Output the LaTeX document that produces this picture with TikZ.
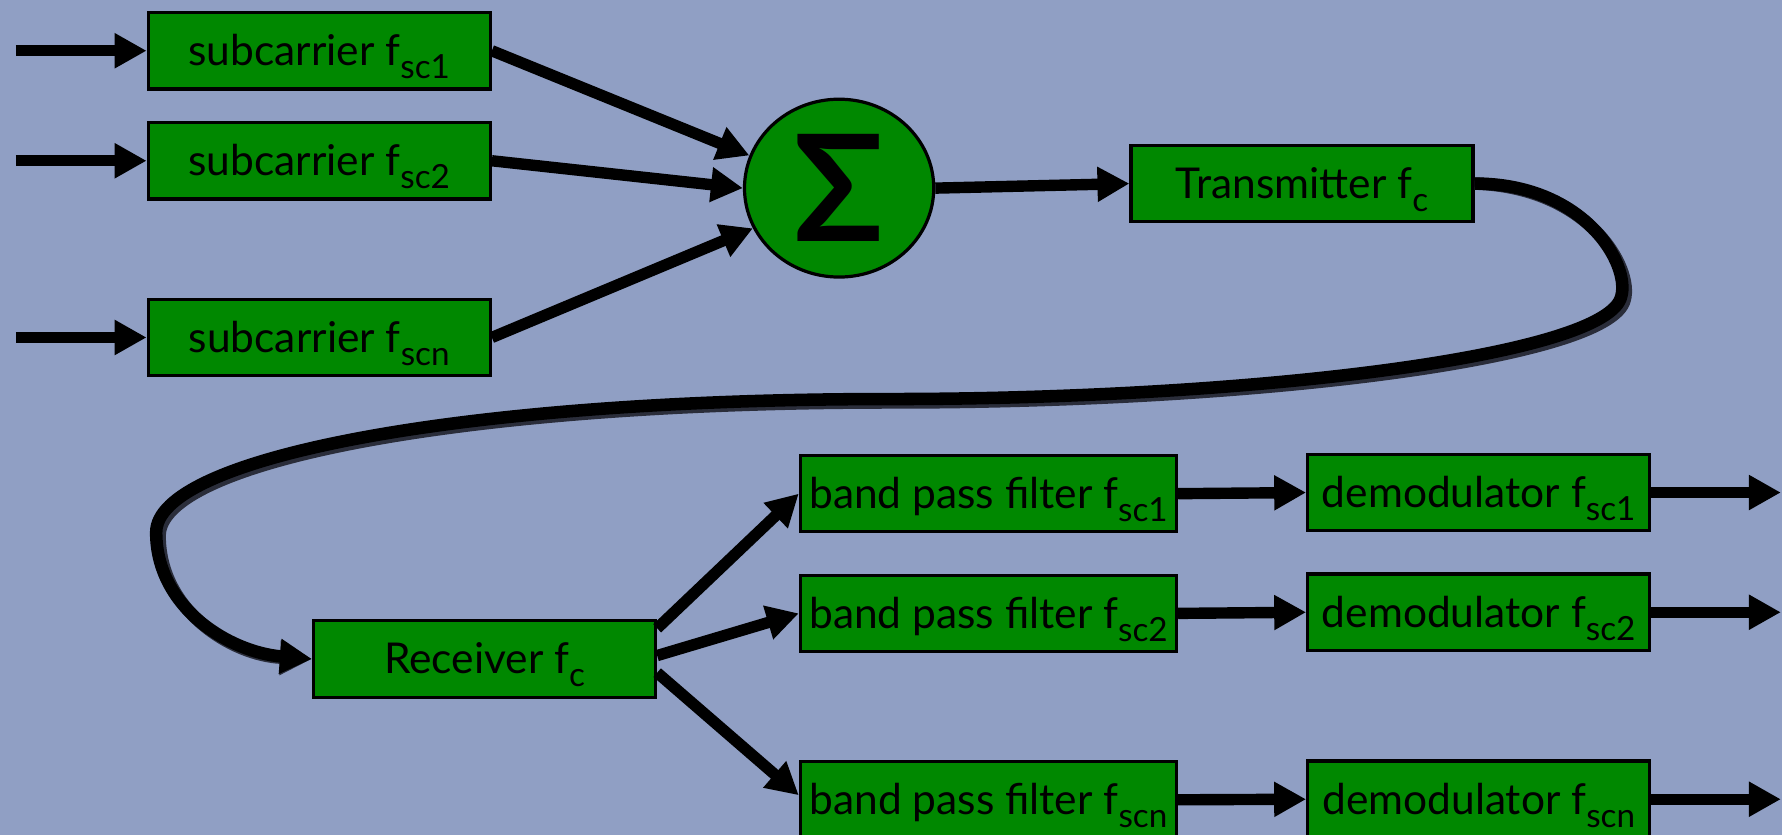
\documentclass[tikz,border=0pt]{standalone}
\usepackage{fontspec}
\setmainfont{Lato}
\usepackage{tikz}
\usetikzlibrary{arrows.meta,shapes.geometric}

\definecolor{bgblue}{HTML}{909FC4}
\definecolor{boxgreen}{HTML}{008800}
\definecolor{shadowgray}{HTML}{2A2D3A}

\newcommand\scsub[1]{\raisebox{-1.15mm}{\fontsize{8.3}{9}\selectfont#1}}

\tikzset{
	block/.style={draw, fill=boxgreen, line width=0.8pt, minimum width=3cm, minimum height=0.67cm, inner sep=0pt, text height=2.6mm, text depth=0pt, font=\fontsize{10.6}{12}\selectfont},
	bpf/.style={block, minimum width=3.3cm},
	sumnode/.style={ellipse, draw, fill=boxgreen, line width=0.8pt, minimum width=1.66cm, minimum height=1.56cm, inner sep=0pt, font=\bfseries\fontsize{37}{37}\selectfont},
	flow/.style={line width=1mm, -{Triangle[length=2.8mm,width=2.9mm]}},
	link/.style={line width=1.1mm, -{Triangle[length=2.8mm,width=2.9mm]}},
}

\begin{document}
\begin{tikzpicture}
\fill[bgblue] (0,0) rectangle (15.63,7.32);
\useasboundingbox (0,0) rectangle (15.63,7.32);

% transmitting side
\node[block] (sub1) at (2.80,6.875) {subcarrier f\scsub{sc1}};
\node[block] (sub2) at (2.80,5.91) {subcarrier f\scsub{sc2}};
\node[block] (subn) at (2.80,4.36) {subcarrier f\scsub{scn}};
\node[sumnode] (sum) at (7.36,5.67) {Σ};
\node[block] (trans) at (11.42,5.71) {Transmitter f\scsub{c}};

\coordinate (in1) at (0.14,6.875);
\coordinate (in2) at (0.14,5.91);
\coordinate (inn) at (0.14,4.36);

% receiving side
\node[block] (recv) at (4.25,1.54) {Receiver f\scsub{c}};
\node[bpf] (bpf1) at (8.67,2.99) {band pass filter f\scsub{sc1}};
\node[bpf] (bpf2) at (8.67,1.94) {band pass filter f\scsub{sc2}};
\node[bpf] (bpfn) at (8.67,0.305) {band pass filter f\scsub{scn}};
\node[block] (dem1) at (12.97,3.00) {demodulator f\scsub{sc1}};
\node[block] (dem2) at (12.97,1.95) {demodulator f\scsub{sc2}};
\node[block] (demn) at (12.97,0.31) {demodulator f\scsub{scn}};

\coordinate (out1) at (15.62,3.00);
\coordinate (out2) at (15.62,1.95);
\coordinate (outn) at (15.62,0.31);

\path[flow]
(in1) edge (sub1.west)
(in2) edge (sub2.west)
(inn) edge (subn.west)
(sub1.east) edge (sum.160)
(sub2.east) edge (sum.180)
(subn.east) edge (sum.205)
(sum.east) edge (trans.west)
([yshift=-0.8mm]recv.north east) edge (bpf1.west)
([yshift=0.3mm]recv.east) edge (bpf2.west)
([yshift=-1.2mm]recv.east) edge ([yshift=0.4mm]bpfn.west)
(bpf1.east) edge (dem1.west)
(bpf2.east) edge (dem2.west)
(bpfn.east) edge (demn.west)
(dem1.east) edge (out1)
(dem2.east) edge (out2)
(demn.east) edge (outn)
;

% the channel, with its shadow
\draw[link, shadowgray, shift={(0.3mm,-0.3mm)}] (trans.east) .. controls (13.9,5.71) and (14.3,5.0) .. (14.22,4.72)
	.. controls (14.1,4.2) and (11,3.82) .. (7.8,3.82)
	.. controls (4,3.82) and (1.37,3.3) .. (1.37,2.65)
	.. controls (1.37,2.0) and (2.0,1.6) .. (recv.west);
\draw[link] (trans.east) .. controls (13.9,5.71) and (14.3,5.0) .. (14.22,4.72)
	.. controls (14.1,4.2) and (11,3.82) .. (7.8,3.82)
	.. controls (4,3.82) and (1.37,3.3) .. (1.37,2.65)
	.. controls (1.37,2.0) and (2.0,1.6) .. (recv.west);
\end{tikzpicture}
\end{document}
